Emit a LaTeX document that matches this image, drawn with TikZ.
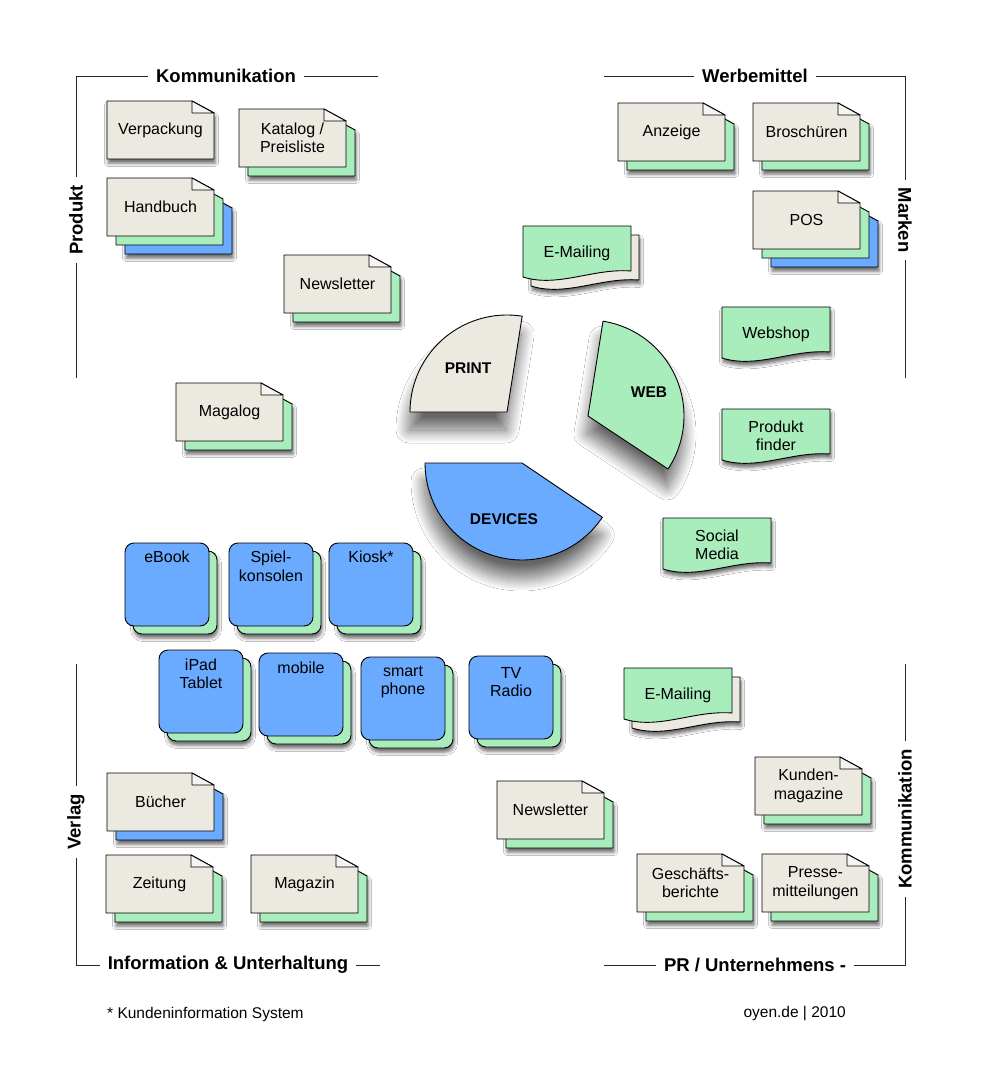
\documentclass[tikz,border=0pt]{standalone}
\usepackage{fontspec}
\setmainfont{Liberation Sans}
\usetikzlibrary{shadows.blur}
\definecolor{paper}{RGB}{236,233,225}
\definecolor{foldc}{RGB}{246,244,240}
\definecolor{mint}{RGB}{168,237,187}
\definecolor{sky}{RGB}{106,170,255}

% doc sheet with cut corner: opts x1 y1 x2 y2 fill
\newcommand\docsheet[6]{\path[outline,fill=#6,#1] (#2,#3) -- ({#4-22},#3) -- (#4,{#3+12}) -- (#4,#5) -- (#2,#5) -- cycle;}
% front sheet: name x y opts text
\newcommand\docfront[5]{%
  \docsheet{#4}{#2}{#3}{#2+107}{#3+58}{paper}%
  \path[outline,fill=foldc] ({#2+85},#3) -- ({#2+85},{#3+12}) -- ({#2+107},{#3+12}) -- cycle;%
  \node[lbl] (#1) at ({#2+53.5},{#3+29}) {#5};}
\newcommand\docnone[4]{\docfront{#1}{#2}{#3}{docshadow}{#4}}
\newcommand\docone[5]{%
  \docsheet{docshadow}{#2+9}{#3+9}{#2+116}{#3+67}{#4}%
  \docfront{#1}{#2}{#3}{}{#5}}
\newcommand\doctwo[6]{%
  \docsheet{docshadow}{#2+18}{#3+18}{#2+125}{#3+76}{#5}%
  \docsheet{}{#2+9}{#3+9}{#2+116}{#3+67}{#4}%
  \docfront{#1}{#2}{#3}{}{#6}}
% wavy sheet: opts x y fill
\newcommand\wavesheet[4]{\path[outline,fill=#4,#1] (#2,#3) -- ({#2+108},#3) -- ({#2+108},{#3+45}) .. controls ({#2+70},{#3+42}) and ({#2+35},{#3+62}) .. (#2,{#3+51}) -- cycle;}
\newcommand\waveone[4]{\wavesheet{docshadow}{#2}{#3}{mint}\node[lbl] (#1) at ({#2+54},{#3+27}) {#4};}
\newcommand\wavetwo[4]{\wavesheet{docshadow}{#2+8}{#3+9}{paper}\wavesheet{}{#2}{#3}{mint}\node[lbl] (#1) at ({#2+54},{#3+27}) {#4};}
% device box: name x y text ytextoffset
\newcommand\devbox[5]{%
  \path[outline,fill=mint,rounded corners=9pt,docshadow] ({#2+8},{#3+8}) rectangle ({#2+92},{#3+91});%
  \path[outline,fill=sky,rounded corners=9pt] (#2,#3) rectangle ({#2+84},{#3+83});%
  \node[lbl] (#1) at ({#2+42},{#3+#5}) {#4};}

\begin{document}
\begin{tikzpicture}[x=1pt,y=-1pt,
  outline/.style={draw=black,line width=0.9pt,line join=round},
  docshadow/.style={blur shadow={shadow xshift=1pt,shadow yshift=-4pt,shadow blur radius=3.5pt,shadow opacity=60}},
  sectorshadow/.style={blur shadow={shadow xshift=-1pt,shadow yshift=-18pt,shadow blur radius=13pt,shadow opacity=60,shadow blur steps=25}},
  lbl/.style={font=\fontsize{16}{18.5}\selectfont,align=center,inner sep=0pt},
  seclbl/.style={font=\fontsize{15.5}{18.5}\selectfont\bfseries,inner sep=0pt},
  head/.style={font=\fontsize{18.5}{21}\selectfont\bfseries,fill=white,inner xsep=8pt,inner ysep=2pt},
  foot/.style={font=\fontsize{15.5}{18}\selectfont,inner sep=0pt},
  frame/.style={draw=black!85,line width=0.9pt}]
\useasboundingbox[fill=white] (0,0) rectangle (981,1081);

% frame brackets
\draw[frame] (378,76) -- (76,76) -- (76,378);
\draw[frame] (604,76) -- (905,76) -- (905,378);
\draw[frame] (76,664) -- (76,965) -- (380,965);
\draw[frame] (604,965) -- (905,965) -- (905,664);
\node[head] (kommA) at (226,76) {Kommunikation};
\node[head] (werbe) at (755,76) {Werbemittel};
\node[head,rotate=90] (produkt) at (76,220) {Produkt};
\node[head,rotate=-90] (marken) at (905,220) {Marken};
\node[head,rotate=90] (verlag) at (76,822) {Verlag};
\node[head] (info) at (228,965) {Information \& Unterhaltung};
\node[head] (pr) at (755,965) {PR / Unternehmens -};
\node[head,rotate=90] (kommB) at (905,819) {Kommunikation};

% sectors
\path[outline,fill=paper,sectorshadow] (507,412) -- plot[domain=81:180,samples=50] ({507+97*cos(\x)},{412-97*sin(\x)}) -- cycle;
\path[outline,fill=mint,sectorshadow] (588,416) -- plot[domain=-33.5:81,samples=50] ({588+96*cos(\x)},{416-96*sin(\x)}) -- cycle;
\path[outline,fill=sky,sectorshadow] (522,463) -- plot[domain=180:326,samples=60] ({522+97*cos(\x)},{463-97*sin(\x)}) -- cycle;
\node[seclbl] (print) at (468,368) {PRINT};
\node[seclbl] (web) at (649,392) {WEB};
\node[seclbl] (devices) at (504,519) {DEVICES};

% documents
\docnone{verpackung}{107}{101}{Verpackung}
\docone{katalog}{239}{109}{mint}{Katalog /\\Preisliste}
\doctwo{handbuch}{107}{178}{mint}{sky}{Handbuch}
\docone{newsA}{284}{255}{mint}{Newsletter}
\docone{magalog}{176}{383}{mint}{Magalog}
\docone{anzeige}{618}{103}{mint}{Anzeige}
\docone{broschueren}{753}{103}{mint}{Broschüren}
\doctwo{pos}{753}{191}{mint}{sky}{POS}
\docone{buecher}{107}{773}{sky}{Bücher}
\docone{zeitung}{106}{855}{mint}{Zeitung}
\docone{magazin}{251}{855}{mint}{Magazin}
\docone{newsB}{497}{781}{mint}{Newsletter}
\docone{kunden}{755}{757}{mint}{Kunden-\\magazine}
\docone{geschaeft}{637}{854}{mint}{Geschäfts-\\berichte}
\docone{presse}{762}{854}{mint}{Presse-\\mitteilungen}

% wavy sheets
\wavetwo{emailA}{523}{226}{E-Mailing}
\wavetwo{emailB}{624}{668}{E-Mailing}
\waveone{webshop}{722}{307}{Webshop}
\waveone{finder}{722}{409}{Produkt\\finder}
\waveone{social}{663}{518}{Social\\Media}

% devices
\devbox{ebook}{125}{543}{eBook}{14}
\devbox{spiel}{229}{543}{Spiel-\\konsolen}{23.5}
\devbox{kiosk}{329}{543}{Kiosk*}{14}
\devbox{ipad}{159}{650}{iPad\\Tablet}{24}
\devbox{mobile}{259}{653}{mobile}{15}
\devbox{smart}{361}{657}{smart\\phone}{25}
\devbox{tv}{469}{656}{TV\\Radio}{26}

% footer
\node[foot,anchor=west] (fn) at (107,1014) {* Kundeninformation System};
\node[foot,anchor=east] (sig) at (846,1014) {oyen.de | 2010};
\end{tikzpicture}
\end{document}
